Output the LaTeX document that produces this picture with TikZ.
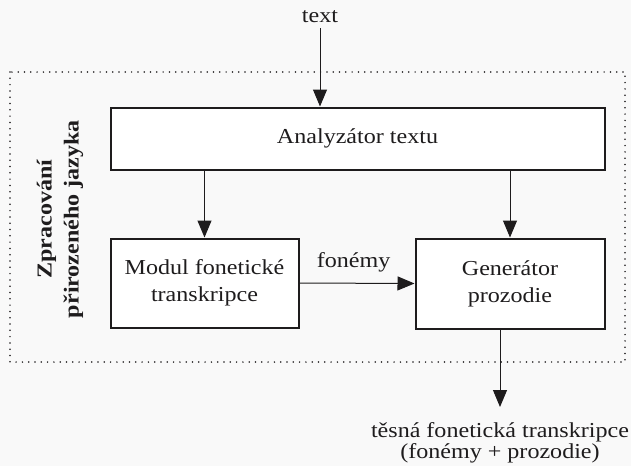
\documentclass[tikz,border=0pt]{standalone}
\usepackage{fontspec}
\setmainfont{Liberation Serif}[FakeStretch=1.13]
\usetikzlibrary{arrows.meta}
\definecolor{ink}{RGB}{30,28,29}
\definecolor{bg}{RGB}{249,249,249}
\begin{document}
\begin{tikzpicture}[x=1pt,y=-1pt,
  every node/.style={text=ink},
  blk/.style={draw=ink, line width=2pt, fill=white, inner sep=0pt, align=center,
    font=\fontsize{21.3}{27}\selectfont},
  conn/.style={draw=ink, line width=1pt, -{Triangle[length=17pt,width=14pt]}},
  lbl/.style={inner sep=0pt, font=\fontsize{21.3}{27}\selectfont},
  frame/.style={draw=ink, line width=1.7pt, line cap=round, dash pattern=on 0pt off 6.3pt}]
\fill[bg] (0,0) rectangle (631,466);
\useasboundingbox (0,0) rectangle (631,466);
\draw[frame] (10,72) rectangle (625,362);

\node[blk, minimum width=494pt, minimum height=62pt] (ana) at (357.5,138.5) {Analyzátor textu};
\node[blk, minimum width=188pt, minimum height=89pt] (mod) at (204.5,283) {Modul fonetické\\transkripce};
\node[blk, minimum width=189pt, minimum height=90pt] (gen) at (510,283.5) {Generátor\\prozodie};

\node[lbl, anchor=base, outer ysep=6pt] (txt) at (320,22) {text};
\node[lbl, rotate=90, align=center, font=\bfseries\fontsize{21.3}{27}\selectfont] (zpr) at (60,219) {Zpracování\\přirozeného jazyka};
\node[lbl, align=center, font=\fontsize{21.3}{21.5}\selectfont, anchor=north, outer ysep=15pt] (out) at (500,407)
  {těsná fonetická transkripce\\(fonémy + prozodie)};

\draw[conn] (txt.south) -- (txt.south |- ana.north);
\draw[conn] (ana.south -| mod.north) -- (mod.north);
\draw[conn] (ana.south -| gen.north) -- (gen.north);
\draw[conn] (mod.east) -- (gen.west)
  node[lbl, pos=0.47, anchor=base, yshift=16pt] {fonémy};
\draw[conn] (gen.south -| out.north) -- (out.north);
\end{tikzpicture}
\end{document}
